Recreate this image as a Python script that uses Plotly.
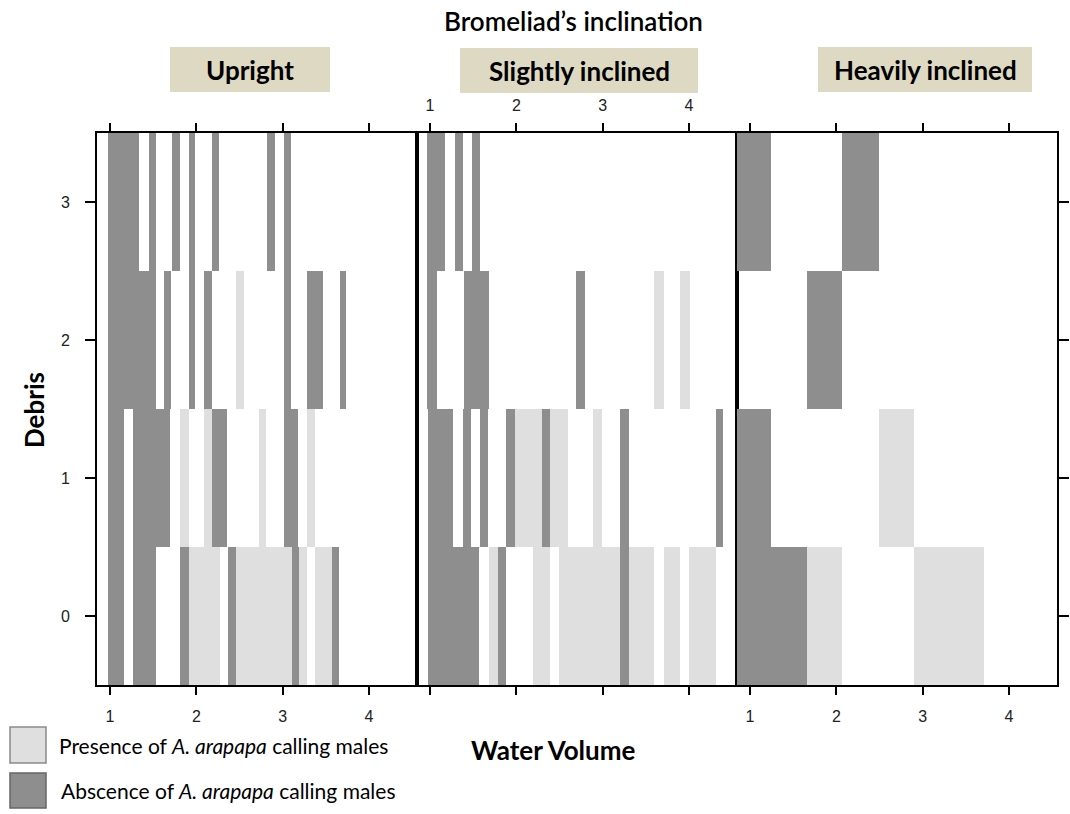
import plotly.graph_objects as go

# ---------------- data (water volume segments per debris level) ----------------
# status: "P" = presence of calling males (light), "A" = absence (dark)
upright_start = [0.98, 1.45, 1.72, 1.91, 2.18, 2.82, 3.02,
                 0.98, 1.62, 1.91, 2.09, 2.46, 3.02, 3.28, 3.66,
                 0.98, 1.27, 1.81, 2.09, 2.18, 2.73, 3.02, 3.28,
                 0.98, 1.27, 1.81, 1.91, 2.37, 2.46, 3.11, 3.19, 3.37, 3.57]
upright_end = [1.34, 1.53, 1.81, 1.99, 2.26, 2.91, 3.10,
               1.53, 1.71, 1.99, 2.18, 2.55, 3.10, 3.47, 3.73,
               1.16, 1.70, 1.91, 2.18, 2.36, 2.81, 3.18, 3.37,
               1.16, 1.53, 1.91, 2.27, 2.46, 3.11, 3.19, 3.28, 3.57, 3.65]
upright_debris = [3] * 7 + [2] * 8 + [1] * 8 + [0] * 10
upright_status = ["A", "A", "A", "A", "A", "A", "A",
                  "A", "A", "A", "A", "P", "A", "A", "A",
                  "A", "A", "P", "P", "A", "P", "A", "P",
                  "A", "A", "A", "P", "A", "P", "A", "P", "P", "A"]

slightly_start = [0.97, 1.29, 1.49,
                  0.97, 1.39, 2.69, 3.60, 3.90,
                  0.98, 1.38, 1.58, 1.88, 1.99, 2.30, 2.39, 2.89, 3.20, 4.31,
                  0.98, 1.68, 1.79, 2.19, 2.50, 3.20, 3.30, 3.71, 4.00]
slightly_end = [1.17, 1.38, 1.58,
                1.08, 1.68, 2.80, 3.71, 4.01,
                1.27, 1.48, 1.67, 1.99, 2.30, 2.39, 2.60, 2.99, 3.30, 4.40,
                1.57, 1.79, 1.88, 2.39, 3.20, 3.30, 3.60, 3.90, 4.31]
slightly_debris = [3] * 3 + [2] * 5 + [1] * 10 + [0] * 9
slightly_status = ["A", "A", "A",
                   "A", "A", "A", "P", "P",
                   "A", "A", "A", "A", "P", "A", "P", "P", "A", "A",
                   "A", "P", "A", "P", "P", "A", "P", "P", "P"]

heavily_start = [0.84, 2.07, 1.66, 0.84, 2.50, 0.84, 1.66, 2.90]
heavily_end = [1.24, 2.49, 2.06, 1.24, 2.90, 1.66, 2.06, 3.71]
heavily_debris = [3, 3, 2, 1, 1, 0, 0, 0]
heavily_status = ["A", "A", "A", "A", "P", "A", "P", "P"]

panel_names = ["Upright", "Slightly inclined", "Heavily inclined"]
x_ticks = [1, 2, 3, 4]
y_ticks = [0, 1, 2, 3]

# ---------------- styling ----------------
DARK = "#8e8e8e"
LIGHT = "#dfdfdf"
STRIP = "#DDD9C3"
W, H = 1070, 814
ML, MR, MT, MB = 97, 13, 133, 129
PW, PH = W - ML - MR, H - MT - MB


def px_x(p):
    return (p - ML) / PW


def px_y(p):
    return (H - MB - p) / PH


fig = go.Figure()
panels = [
    (upright_start, upright_end, upright_debris, upright_status),
    (slightly_start, slightly_end, slightly_debris, slightly_status),
    (heavily_start, heavily_end, heavily_debris, heavily_status),
]
for i, (st, en, db, ss) in enumerate(panels):
    xa = "x" if i == 0 else f"x{i+1}"
    ya = "y" if i == 0 else f"y{i+1}"
    for code, col in (("A", DARK), ("P", LIGHT)):
        idx = [k for k in range(len(st)) if ss[k] == code]
        fig.add_trace(go.Bar(
            x=[st[k] for k in idx],
            y=[1] * len(idx),
            base=[db[k] - 0.5 for k in idx],
            width=[en[k] - st[k] for k in idx],
            offset=0,
            marker=dict(color=col, line=dict(width=0)),
            xaxis=xa, yaxis=ya, showlegend=False, hoverinfo="skip",
        ))

tickfont = dict(family="Liberation Sans, Arial, sans-serif", size=16, color="#222222")
common_x = dict(range=[0.849, 4.557], tickvals=x_ticks, ticks="outside", ticklen=8,
                tickwidth=1.5, tickcolor="black", showline=True, linecolor="black",
                linewidth=1.8, mirror="allticks", showgrid=False, zeroline=False,
                tickfont=tickfont, fixedrange=True, automargin=False)
common_y = dict(range=[-0.5, 3.5], tickvals=y_ticks, showline=True, linecolor="black",
                linewidth=1.8, mirror=True, showgrid=False, zeroline=False,
                tickfont=tickfont, tickwidth=1.5, tickcolor="black", automargin=False,
                fixedrange=True)

third = 1 / 3
fig.update_layout(
    width=W, height=H, margin=dict(l=ML, r=MR, t=MT, b=MB, autoexpand=False),
    paper_bgcolor="white", plot_bgcolor="white", barmode="overlay", bargap=0,
    xaxis=dict(domain=[0, third], anchor="y", side="bottom", ticklabelstandoff=8, **common_x),
    xaxis2=dict(domain=[third, 2 * third], anchor="y2", side="top", ticklabelstandoff=6, **common_x),
    xaxis3=dict(domain=[2 * third, 1], anchor="y3", side="bottom", ticklabelstandoff=8, **common_x),
    yaxis=dict(anchor="x", side="left", ticks="outside", ticklen=10, ticklabelstandoff=12, **common_y),
    yaxis2=dict(anchor="x2", ticks="", showticklabels=False, **common_y),
    yaxis3=dict(anchor="x3", side="right", ticks="outside", ticklen=10, showticklabels=False, **common_y),
)

TFONT = "Lato, Open Sans, sans-serif"
shapes = []
annotations = []
# strip label boxes (pixel positions)
boxes = [(170, 330, 47, 92), (460, 698, 48, 93), (818, 1032, 47, 92)]
for name, (x0, x1, y0, y1) in zip(panel_names, boxes):
    shapes.append(dict(type="rect", xref="paper", yref="paper", x0=px_x(x0), x1=px_x(x1),
                       y0=px_y(y1), y1=px_y(y0), fillcolor=STRIP, line=dict(width=0), layer="below"))
    annotations.append(dict(text="<b>" + name + "</b>", xref="paper", yref="paper",
                            x=px_x((x0 + x1) / 2), y=px_y((y0 + y1) / 2), showarrow=False,
                            xanchor="center", yanchor="middle",
                            font=dict(family=TFONT, size=26, color="black")))

annotations.append(dict(text="Bromeliad’s inclination", xref="paper", yref="paper",
                        x=px_x(573), y=px_y(21), showarrow=False, xanchor="center", yanchor="middle",
                        font=dict(family=TFONT, size=26, color="black", weight=600)))
annotations.append(dict(text="<b>Water Volume</b>", xref="paper", yref="paper",
                        x=px_x(553), y=px_y(750), showarrow=False, xanchor="center", yanchor="middle",
                        font=dict(family=TFONT, size=26, color="black")))
annotations.append(dict(text="<b>Debris</b>", xref="paper", yref="paper", textangle=-90,
                        x=px_x(34), y=px_y(410), showarrow=False, xanchor="center", yanchor="middle",
                        font=dict(family=TFONT, size=26, color="black")))

# legend
legend_items = [
    (LIGHT, "#8a8a8a", 727, 763, 57, "Presence of <i>A. arapapa</i> calling males"),
    (DARK, "#666666", 773, 808, 59, "Abscence of <i>A. arapapa</i> calling males"),
]
for fill, edge, y0, y1, tx, label in legend_items:
    shapes.append(dict(type="rect", xref="paper", yref="paper", x0=px_x(10), x1=px_x(46),
                       y0=px_y(y1), y1=px_y(y0), fillcolor=fill, line=dict(color=edge, width=1.5)))
    annotations.append(dict(text=label, xref="paper", yref="paper", x=px_x(tx), y=px_y((y0 + y1) / 2),
                            showarrow=False, xanchor="left", yanchor="middle",
                            font=dict(family=TFONT, size=21, color="black")))

fig.update_layout(shapes=shapes, annotations=annotations)
fig.write_html("out.html")
